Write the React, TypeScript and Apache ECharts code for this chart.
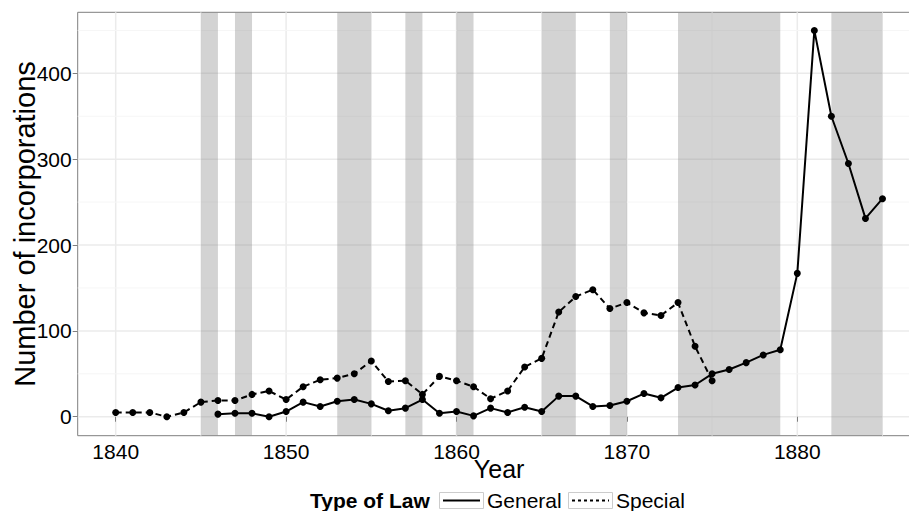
import React, { useEffect, useRef } from 'react';
import * as echarts from 'echarts';

const generalYears = [1846, 1847, 1848, 1849, 1850, 1851, 1852, 1853, 1854, 1855, 1856, 1857, 1858, 1859, 1860, 1861, 1862, 1863, 1864, 1865, 1866, 1867, 1868, 1869, 1870, 1871, 1872, 1873, 1874, 1875, 1876, 1877, 1878, 1879, 1880, 1881, 1882, 1883, 1884, 1885];
const generalValues = [3, 4, 4, 0, 6, 17, 12, 18, 20, 15, 7, 10, 20, 4, 6, 1, 10, 5, 11, 6, 24, 24, 12, 13, 18, 27, 22, 34, 37, 50, 55, 63, 72, 78, 167, 450, 350, 295, 231, 254];

const specialYears = [1840, 1841, 1842, 1843, 1844, 1845, 1846, 1847, 1848, 1849, 1850, 1851, 1852, 1853, 1854, 1855, 1856, 1857, 1858, 1859, 1860, 1861, 1862, 1863, 1864, 1865, 1866, 1867, 1868, 1869, 1870, 1871, 1872, 1873, 1874, 1875];
const specialValues = [5, 5, 5, 0, 5, 17, 19, 19, 26, 30, 20, 35, 43, 45, 50, 65, 41, 42, 26, 47, 42, 35, 21, 30, 58, 68, 122, 140, 148, 126, 133, 121, 118, 133, 82, 42];

const recessionStarts = [1845, 1847, 1853, 1857, 1860, 1865, 1869, 1873, 1882];
const recessionEnds = [1846, 1848, 1855, 1858, 1861, 1867, 1870, 1879, 1885];

const xTickLabels = [1840, 1850, 1860, 1870, 1880];
const xMinorBreaks = [1845, 1855, 1865, 1875, 1885];
const yTickLabels = [0, 100, 200, 300, 400];
const yMinorBreaks = [50, 150, 250, 350, 450];

const seriesNames = ['General', 'Special'];
const legendTitle = 'Type of Law';

const FONT = '"Liberation Sans", Arial, Helvetica, sans-serif';

export default function App() {
  const ref = useRef<HTMLDivElement>(null);

  useEffect(() => {
    const chart = echarts.init(ref.current as HTMLDivElement, null, { renderer: 'svg' });

    const vGridData = [
      ...xTickLabels.map((v) => [v, 0, 1]),
      ...xMinorBreaks.map((v) => [v, 0, 0]),
    ];
    const hGridData = [
      ...yTickLabels.map((v) => [1860, v, 1]),
      ...yMinorBreaks.map((v) => [1860, v, 0]),
    ];
    const shadeData = recessionStarts.map((s, i) => [s, recessionEnds[i], 0]);

    const option: any = {
      animation: false,
      backgroundColor: '#ffffff',
      textStyle: { fontFamily: FONT },
      grid: {
        left: 77.7,
        top: 12.3,
        right: -11.5,
        bottom: 75.3,
        show: true,
        borderColor: '#7f7f7f',
        borderWidth: 1,
        backgroundColor: 'transparent',
        containLabel: false,
        outerBoundsMode: 'none',
      },
      xAxis: {
        type: 'value',
        min: 1837.77,
        max: 1887.23,
        name: 'Year',
        nameLocation: 'middle',
        nameGap: 21,
        nameMoveOverlap: false,
        nameTextStyle: { fontSize: 25, color: '#000', fontFamily: FONT },
        axisLine: { show: false },
        axisTick: { show: true, length: 5, lineStyle: { color: '#7f7f7f', width: 1 }, customValues: xTickLabels },
        axisLabel: {
          customValues: xTickLabels,
          fontSize: 21,
          color: '#000',
          fontFamily: FONT,
          margin: 5,
          formatter: (v: number) => String(v),
        },
        splitLine: { show: false },
      },
      yAxis: {
        type: 'value',
        min: -22.1,
        max: 471.1,
        name: 'Number of incorporations',
        nameLocation: 'middle',
        nameGap: 38,
        nameMoveOverlap: false,
        nameTextStyle: { fontSize: 29, color: '#000', fontFamily: FONT },
        axisLine: { show: false },
        axisTick: { show: true, length: 5, lineStyle: { color: '#7f7f7f', width: 1 }, customValues: yTickLabels },
        axisLabel: {
          customValues: yTickLabels,
          fontSize: 21,
          color: '#000',
          fontFamily: FONT,
          margin: 6,
          formatter: (v: number) => String(v),
        },
        splitLine: { show: false },
      },
      series: [
        {
          type: 'custom',
          name: 'vgrid',
          z: 0,
          silent: true,
          data: vGridData,
          renderItem: (params: any, api: any) => {
            const cs = params.coordSys;
            const x = api.coord([api.value(0), 0])[0];
            const major = api.value(2) === 1;
            return {
              type: 'line',
              shape: { x1: x, y1: cs.y, x2: x, y2: cs.y + cs.height },
              style: { stroke: major ? '#ebebeb' : '#f6f6f6', lineWidth: major ? 1.5 : 1 },
            };
          },
        },
        {
          type: 'custom',
          name: 'hgrid',
          z: 0,
          silent: true,
          data: hGridData,
          renderItem: (params: any, api: any) => {
            const cs = params.coordSys;
            const y = api.coord([1860, api.value(1)])[1];
            const major = api.value(2) === 1;
            return {
              type: 'line',
              shape: { x1: cs.x, y1: y, x2: cs.x + cs.width, y2: y },
              style: { stroke: major ? '#ebebeb' : '#f6f6f6', lineWidth: major ? 1.5 : 1 },
            };
          },
        },
        {
          type: 'custom',
          name: 'recessions',
          z: 1,
          silent: true,
          encode: { x: [0, 1], y: 2 },
          data: shadeData,
          renderItem: (params: any, api: any) => {
            const cs = params.coordSys;
            const p0 = api.coord([api.value(0), 0]);
            const p1 = api.coord([api.value(1), 0]);
            return {
              type: 'rect',
              shape: { x: p0[0], y: cs.y + 0.5, width: p1[0] - p0[0], height: cs.height - 1 },
              style: { fill: 'rgba(128,128,128,0.35)' },
            };
          },
        },
        {
          type: 'line',
          name: seriesNames[0],
          z: 3,
          data: generalYears.map((y, i) => [y, generalValues[i]]),
          symbol: 'circle',
          symbolSize: 7,
          showSymbol: true,
          itemStyle: { color: '#000' },
          lineStyle: { color: '#000', width: 2, type: 'solid' },
        },
        {
          type: 'line',
          name: seriesNames[1],
          z: 3,
          data: specialYears.map((y, i) => [y, specialValues[i]]),
          symbol: 'circle',
          symbolSize: 7,
          showSymbol: true,
          itemStyle: { color: '#000' },
          lineStyle: { color: '#000', width: 2, type: [6, 4] },
        },
      ],
      graphic: [
        {
          type: 'text',
          left: 310,
          top: 490,
          style: { text: legendTitle, font: `bold 21px ${FONT}`, fill: '#000' },
        },
        {
          type: 'rect',
          shape: { x: 439.5, y: 492.5, width: 44, height: 16 },
          style: { fill: '#fff', stroke: '#cccccc', lineWidth: 1 },
        },
        {
          type: 'line',
          shape: { x1: 443, y1: 500.5, x2: 480, y2: 500.5 },
          style: { stroke: '#000', lineWidth: 2 },
        },
        {
          type: 'text',
          left: 487,
          top: 490,
          style: { text: seriesNames[0], font: `21px ${FONT}`, fill: '#000' },
        },
        {
          type: 'rect',
          shape: { x: 568.5, y: 492.5, width: 44, height: 16 },
          style: { fill: '#fff', stroke: '#cccccc', lineWidth: 1 },
        },
        {
          type: 'line',
          shape: { x1: 572, y1: 500.5, x2: 609, y2: 500.5 },
          style: { stroke: '#000', lineWidth: 2, lineDash: [3, 3] },
        },
        {
          type: 'text',
          left: 616,
          top: 490,
          style: { text: seriesNames[1], font: `21px ${FONT}`, fill: '#000' },
        },
      ],
    };

    chart.setOption(option);
    return () => chart.dispose();
  }, []);

  return (
    <div
      ref={ref}
      style={{ position: 'fixed', left: 0, top: 0, width: 909, height: 511, background: '#fff' }}
    />
  );
}
